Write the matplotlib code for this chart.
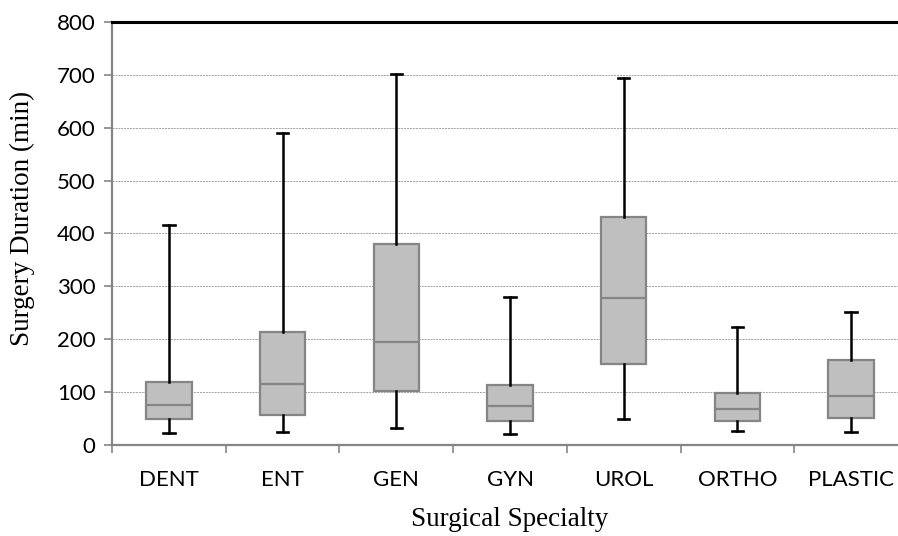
import matplotlib
matplotlib.use('Agg')
import matplotlib.pyplot as plt

# specialties and five-number summaries (minutes)
specialties = ['DENT', 'ENT', 'GEN', 'GYN', 'UROL', 'ORTHO', 'PLASTIC']
whislo = [22, 25, 33, 21, 50, 26, 25]
q1 = [50, 57, 103, 45, 154, 45, 51]
med = [75, 116, 195, 74, 278, 69, 93]
q3 = [119, 213, 381, 113, 431, 99, 160]
whishi = [417, 590, 701, 279, 695, 223, 251]

stats = []
for i in range(len(specialties)):
    stats.append({'label': specialties[i], 'whislo': whislo[i], 'q1': q1[i],
                  'med': med[i], 'q3': q3[i], 'whishi': whishi[i], 'fliers': []})

fig = plt.figure(figsize=(8.98, 5.36), dpi=100)
ax = fig.add_axes([112/898, 1 - 445/536, 796/898, 423/536])

pos = list(range(1, len(specialties) + 1))
ax.bxp(stats, positions=pos, widths=0.4, patch_artist=True, showfliers=False,
       boxprops=dict(facecolor='#bfbfbf', edgecolor='#858585', linewidth=1.6),
       medianprops=dict(color='#858585', linewidth=1.6),
       whiskerprops=dict(color='black', linewidth=1.8),
       capprops=dict(color='black', linewidth=1.9),
       capwidths=0.1, zorder=3)

ax.set_xlim(0.5, len(specialties) + 0.5)
ax.set_ylim(0, 800)
ax.set_yticks(range(0, 801, 100))
ax.set_yticklabels([str(v) for v in range(0, 801, 100)], fontfamily='Lato', fontsize=16)

# boundaries between categories carry the ticks, labels sit in the middle
ax.set_xticks([p - 0.5 for p in pos] + [len(pos) + 0.5])
ax.set_xticklabels([])
ax.set_xticks(pos, minor=True)
ax.set_xticklabels(specialties, minor=True, fontfamily='Lato', fontsize=16)
ax.tick_params(axis='x', which='major', length=6, width=1.2, color='#858585', direction='out')
ax.tick_params(axis='x', which='minor', length=0, pad=18)
ax.tick_params(axis='y', length=6, width=1.2, color='#858585', pad=6)

ax.grid(axis='y', color='#a0a0a0', linestyle=(0, (2, 1)), linewidth=0.7, zorder=0)
ax.axhline(800, color='black', linewidth=2.2, zorder=4, clip_on=False)

for s in ['left', 'bottom']:
    ax.spines[s].set_color('#858585')
    ax.spines[s].set_linewidth(1.6)
ax.spines['top'].set_visible(False)
ax.spines['right'].set_visible(False)

ax.set_ylabel('Surgery Duration (min)', fontfamily='Liberation Serif', fontsize=19.5, va='center')
ax.set_xlabel('Surgical Specialty', fontfamily='Liberation Serif', fontsize=19.5, va='center')
ax.yaxis.set_label_coords(-0.113, 0.535)
ax.xaxis.set_label_coords(0.5, -0.175)

fig.savefig('out.png', dpi=100)
